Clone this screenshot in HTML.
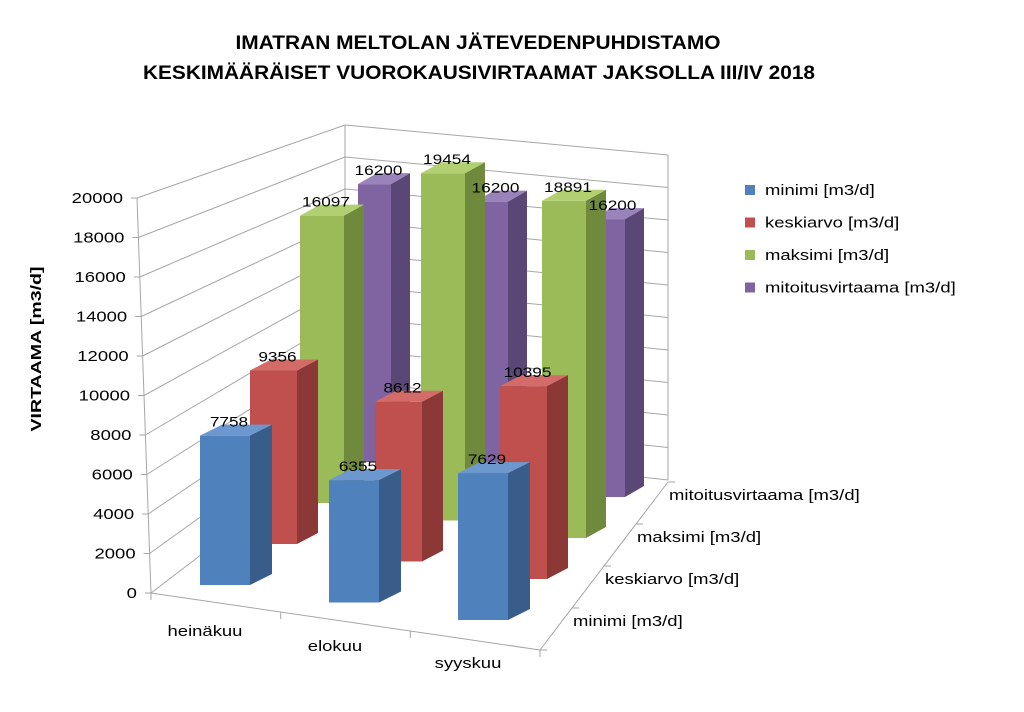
<!DOCTYPE html>
<html><head><meta charset="utf-8"><style>
body{margin:0;background:#fff;}
svg{display:block;font-family:"Liberation Sans",Calibri,sans-serif;}
</style></head><body>
<svg id="chart" width="1024" height="712" viewBox="0 0 1024 712" xmlns="http://www.w3.org/2000/svg">
<rect width="1024" height="712" fill="#fff"/>
<text x="478" y="49" text-anchor="middle" font-size="19" font-weight="bold" textLength="485" lengthAdjust="spacingAndGlyphs">IMATRAN MELTOLAN JÄTEVEDENPUHDISTAMO</text>
<text x="479" y="79" text-anchor="middle" font-size="19" font-weight="bold" textLength="672" lengthAdjust="spacingAndGlyphs">KESKIMÄÄRÄISET VUOROKAUSIVIRTAAMAT JAKSOLLA III/IV 2018</text>
<text transform="translate(41,349) rotate(-90)" text-anchor="middle" font-size="15" font-weight="bold" textLength="165" lengthAdjust="spacingAndGlyphs">VIRTAAMA [m3/d]</text>
<g id="axes"></g>
<g id="bars"></g>
<g id="labels"></g>
<g id="legend"></g>
</svg>
<script>
const categories = ["heinäkuu", "elokuu", "syyskuu"];
const seriesNames = ["minimi [m3/d]", "keskiarvo [m3/d]", "maksimi [m3/d]", "mitoitusvirtaama [m3/d]"];
const minimi = [7758, 6355, 7629];
const keskiarvo = [9356, 8612, 10395];
const maksimi = [16097, 19454, 18891];
const mitoitus = [16200, 16200, 16200];
const yTicks = [0, 2000, 4000, 6000, 8000, 10000, 12000, 14000, 16000, 18000, 20000];

const series = [minimi, keskiarvo, maksimi, mitoitus];
const colors = [
  {f:"#4f81bd", s:"#385d8a", t:"#6d98cf"},
  {f:"#c0504d", s:"#8c3836", t:"#d36c68"},
  {f:"#9bbb59", s:"#6f8a3c", t:"#b2cf72"},
  {f:"#8064a2", s:"#5b4776", t:"#9a82ba"}
];
const NS = "http://www.w3.org/2000/svg";
const W = 1.23;
function mk(tag, attrs, parent){ const e=document.createElementNS(NS,tag); for(const k in attrs) e.setAttribute(k,attrs[k]); parent.appendChild(e); return e; }
function txt(parent, x, y, s, size, anchor){
  const e=mk('text',{x:x,y:y,'font-size':size,'text-anchor':anchor||'start'},parent);
  e.textContent=s;
  const len=e.getComputedTextLength();
  if(len>0){ e.setAttribute('textLength', (len*W).toFixed(1)); e.setAttribute('lengthAdjust','spacingAndGlyphs'); }
  return e;
}
const axes = document.getElementById('axes');
const barsG = document.getElementById('bars');
const labelsG = document.getElementById('labels');
const legendG = document.getElementById('legend');
const yMax = 20000;

function frontAxis(v){ const t=v/yMax; return [151 - 14*t, 593 - 395*t]; }
function backLeft(v){ const t=v/yMax; return [345, 445 - 320*t]; }
function backRight(v){ const t=v/yMax; return [668, 480 - 325*t]; }
const gridStroke = "#a6a6a6";
yTicks.forEach((v,i)=>{
  const a=frontAxis(v), b=backLeft(v), c=backRight(v);
  const l1=mk('line',{x1:a[0],y1:a[1],x2:b[0],y2:b[1],stroke:gridStroke,'stroke-width':1},axes);
  
  
  const l2=mk('line',{x1:b[0],y1:b[1],x2:c[0],y2:c[1],stroke:gridStroke,'stroke-width':1},axes);
  
  
  const tk=mk('line',{x1:a[0]-6,y1:a[1],x2:a[0],y2:a[1],stroke:gridStroke},axes);
  
  
  const tx=txt(axes, a[0]-14, a[1]+5, String(v), 15, 'end');
  
  
});
[[frontAxis(0),frontAxis(yMax)],[backLeft(0),backLeft(yMax)],[backRight(0),backRight(yMax)],
 [[151,593],[540,650]],[[540,650],[668,482]]].forEach(p=>{
  const l=mk('line',{x1:p[0][0],y1:p[0][1],x2:p[1][0],y2:p[1][1],stroke:gridStroke},axes);
  
  
});
for(let i=0;i<=categories.length;i++){
  const t=i/categories.length, x=151+389*t, y=593+57*t;
  const l=mk('line',{x1:x,y1:y,x2:x,y2:y+7,stroke:gridStroke},axes);
  
  
}
const catLabelPos=[[205,636],[335,651],[468,668]];
categories.forEach((c,i)=>{
  const t=txt(axes, catLabelPos[i][0], catLabelPos[i][1], c, 15, 'middle');
  
  
});
for(let i=0;i<=seriesNames.length;i++){
  const t=i/seriesNames.length, x=540+128*t, y=650-168*t;
  const l=mk('line',{x1:x,y1:y,x2:x+7,y2:y,stroke:gridStroke},axes);
  
  
}
seriesNames.forEach((s,i)=>{
  const t=(i+0.5)/seriesNames.length, x=540+128*t+17, y=650-168*t-3;
  const e=txt(axes, x, y, s, 15);
  
  
});

function bar(ci,si,val){
  const x = 200 + ci*129 + si*50 - si*ci*4 + (si===3?8:0);
  const y = 585 + ci*17.5 - si*41;
  const w = 50 - si*3 - (si===3?8:0);
  const dx = 22 - si*1, dy = -11;
  const h = val*(385 - si*14)/yMax;
  const top = y - h;
  const c = colors[si];
  const g = mk('g',{},barsG);
  
  
  mk('polygon',{points:`${x},${y} ${x+w},${y} ${x+w},${top} ${x},${top}`,fill:c.f},g);
  mk('polygon',{points:`${x+w},${y} ${x+w+dx},${y+dy} ${x+w+dx},${top+dy} ${x+w},${top}`,fill:c.s},g);
  mk('polygon',{points:`${x},${top} ${x+w},${top} ${x+w+dx},${top+dy} ${x+dx},${top+dy}`,fill:c.t},g);
  const t=txt(labelsG, x+w/2+4, top-9, String(val), 14, 'middle');
  
  
}
for(let si=series.length-1;si>=0;si--){
  for(let ci=0;ci<categories.length;ci++) bar(ci,si,series[si][ci]);
}
seriesNames.forEach((s,i)=>{
  const y=190+i*32.5;
  const r=mk('rect',{x:745,y:y-5,width:10,height:10,fill:colors[i].f},legendG);
  
  
  const t=txt(legendG, 765, y+5, s, 15);
  
  
});
</script>
</body></html>
